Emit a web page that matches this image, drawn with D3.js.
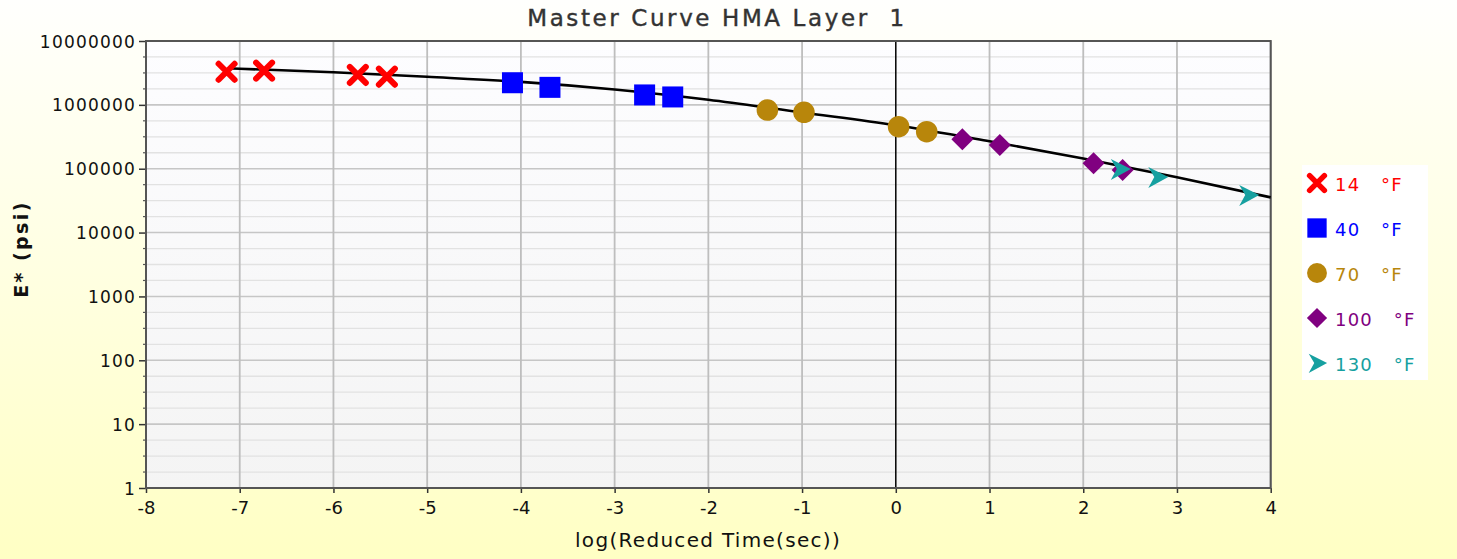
<!DOCTYPE html>
<html><head><meta charset="utf-8">
<script src="https://cdn.jsdelivr.net/npm/d3@7"></script>
<style>
html,body{margin:0;padding:0;}
svg{display:block;}
text{font-family:"DejaVu Sans",Verdana,sans-serif;}
</style></head>
<body>
<svg id="chart" width="1457" height="559"></svg>
<script>
// ---- data ----
const xTicks = [-8,-7,-6,-5,-4,-3,-2,-1,0,1,2,3,4];
const yTicks = [1,10,100,1000,10000,100000,1000000,10000000];
const yTickLabels = ["1","10","100","1000","10000","100000","1000000","10000000"];
const seriesNames = ["14   °F","40   °F","70   °F","100   °F","130   °F"];
const seriesColors = ["#ff0000","#0000ff","#b8860b","#800080","#16a0a0"];
const seriesShapes = ["x","square","circle","diamond","arrow"];
const t14 = [-7.14,-6.74,-5.74,-5.43];
const e14 = [3300000,3430000,2940000,2760000];
const t40 = [-4.09,-3.69,-2.68,-2.38];
const e40 = [2220000,1880000,1430000,1330000];
const t70 = [-1.37,-0.98,0.03,0.33];
const e70 = [830000,764000,455000,380000];
const t100 = [0.71,1.11,2.11,2.42];
const e100 = [289000,235000,122000,95500];
const t130 = [2.39,2.79,3.76];
const e130 = [99000,74000,38800];
const curveT = [-7.1,-7,-6,-5,-4,-3,-2,-1,0,1,2,3,4];
const curveE = [3720000,3670000,3240000,2750000,2290000,1740000,1200000,759000,479000,269000,145000,73300,35600];

const seriesT = [t14,t40,t70,t100,t130];
const seriesE = [e14,e40,e70,e100,e130];

// ---- layout ----
const W = 1457, H = 559;
const L = 146, R = 1270.7, T = 41, B = 488;
const svg = d3.select("#chart");
const defs = svg.append("defs");
const bg = defs.append("linearGradient").attr("id","bg").attr("x1",0).attr("y1",0).attr("x2",0).attr("y2",1);
bg.append("stop").attr("offset","0%").attr("stop-color","#fffffd");
bg.append("stop").attr("offset","100%").attr("stop-color","#ffffc4");
const pg = defs.append("linearGradient").attr("id","pg").attr("x1",0).attr("y1",0).attr("x2",0).attr("y2",1);
pg.append("stop").attr("offset","0%").attr("stop-color","#fdfdff");
pg.append("stop").attr("offset","100%").attr("stop-color","#f4f4f4");

svg.append("rect").attr("width",W).attr("height",H).attr("fill","url(#bg)");

const x = d3.scaleLinear().domain([-8,4]).range([L,R]);
const y = d3.scaleLog().domain([1,1e7]).range([B,T]);

svg.append("rect").attr("x",L).attr("y",T).attr("width",R-L).attr("height",B-T).attr("fill","url(#pg)");

// minor horizontal grid
const minor = [];
for (let k=0;k<7;k++) for (let j=1;j<4;j++) minor.push(Math.pow(10,k+j/4));
const g = svg.append("g");
g.selectAll(".minor").data(minor).enter().append("line")
  .attr("x1",L).attr("x2",R).attr("y1",d=>y(d)).attr("y2",d=>y(d))
  .attr("stroke","#e2e2e2").attr("stroke-width",1.3);
g.selectAll(".major").data(yTicks).enter().append("line")
  .attr("x1",L).attr("x2",R).attr("y1",d=>y(d)).attr("y2",d=>y(d))
  .attr("stroke","#c6c6c6").attr("stroke-width",1.6);
g.selectAll(".vgrid").data(xTicks).enter().append("line")
  .attr("y1",T).attr("y2",B).attr("x1",d=>x(d)).attr("x2",d=>x(d))
  .attr("stroke",d=>d===0?"#000":"#bebebe").attr("stroke-width",d=>d===0?1.5:1.8);

// axes
const yAxis = d3.axisLeft(y).tickValues(yTicks).tickSize(7).tickFormat((d,i)=>yTickLabels[i]).tickPadding(3);
const ya = svg.append("g").attr("transform",`translate(${L},0)`).call(yAxis);
ya.select(".domain").remove();
ya.selectAll("line").attr("stroke","#333").attr("stroke-width",1.5);
ya.selectAll("text").attr("font-size",17).attr("letter-spacing","1.2px").attr("fill","#111")
  .attr("font-family","DejaVu Sans").attr("dy","0.36em");
svg.append("g").selectAll("line").data(minor).enter().append("line")
  .attr("x1",L-3).attr("x2",L).attr("y1",d=>y(d)).attr("y2",d=>y(d))
  .attr("stroke","#555").attr("stroke-width",1.2);

const xAxis = d3.axisBottom(x).tickValues(xTicks).tickSize(5).tickFormat(d=>String(d)).tickPadding(8);
const xa = svg.append("g").attr("transform",`translate(0,${B})`).call(xAxis);
xa.select(".domain").remove();
xa.selectAll("line").attr("stroke","#333").attr("stroke-width",1.5);
xa.selectAll("text").attr("font-size",18).attr("fill","#111").attr("font-family","DejaVu Sans");

// border
svg.append("rect").attr("x",L).attr("y",T).attr("width",R-L).attr("height",B-T)
  .attr("fill","none").attr("stroke","#555").attr("stroke-width",2);

// curve
const line = d3.line().x(d=>x(d[0])).y(d=>y(d[1])).curve(d3.curveMonotoneX);
svg.append("path").datum(curveT.map((t,i)=>[t,curveE[i]]))
  .attr("d",line).attr("fill","none").attr("stroke","#000").attr("stroke-width",2.6);

// markers
function drawMarker(sel, shape, color){
  if (shape==="x"){
    sel.append("path").attr("d","M-8,-8L8,8M-8,8L8,-8").attr("stroke",color).attr("stroke-width",6).attr("stroke-linecap","round").attr("fill","none");
  } else if (shape==="square"){
    sel.append("rect").attr("x",-10.5).attr("y",-10.5).attr("width",21).attr("height",21).attr("fill",color);
  } else if (shape==="circle"){
    sel.append("circle").attr("r",10.8).attr("fill",color);
  } else if (shape==="diamond"){
    sel.append("path").attr("d","M0,-11L11,0L0,11L-11,0Z").attr("fill",color);
  } else if (shape==="arrow"){
    sel.append("path").attr("d","M11,0L-9,-10L-3,0L-9,11Z").attr("fill",color);
  }
}
seriesT.forEach((ts,si)=>{
  ts.forEach((t,i)=>{
    const m = svg.append("g").attr("transform",`translate(${x(t)},${y(seriesE[si][i])})`);
    drawMarker(m, seriesShapes[si], seriesColors[si]);
  });
});

// title
svg.append("text").attr("x",717).attr("y",26).attr("text-anchor","middle")
  .attr("font-size",23).attr("fill","#333").attr("stroke","#333").attr("stroke-width",0.4)
  .attr("letter-spacing","2.6px").style("white-space","pre").text("Master Curve HMA Layer  1");

// axis titles
svg.append("text").attr("x",708).attr("y",547).attr("text-anchor","middle")
  .attr("font-size",20).attr("fill","#111").attr("letter-spacing","1.3px").text("log(Reduced Time(sec))");
svg.append("text").attr("transform","translate(28,249) rotate(-90)").attr("text-anchor","middle")
  .attr("font-size",19).attr("font-weight","bold").attr("fill","#111").attr("letter-spacing","2.4px")
  .style("white-space","pre").text("E* (psi)");

// legend
const lg = svg.append("g");
lg.append("rect").attr("x",1302).attr("y",165).attr("width",126).attr("height",215).attr("fill","#fff");
seriesNames.forEach((n,i)=>{
  const cy = 183 + i*45;
  const m = lg.append("g").attr("transform",`translate(1317,${cy}) scale(0.92)`);
  drawMarker(m, seriesShapes[i], seriesColors[i]);
  lg.append("text").attr("x",1335).attr("y",cy+8).attr("font-size",18).attr("fill",seriesColors[i])
    .attr("letter-spacing","1.2px").style("white-space","pre").text(n);
});
</script>
</body></html>
